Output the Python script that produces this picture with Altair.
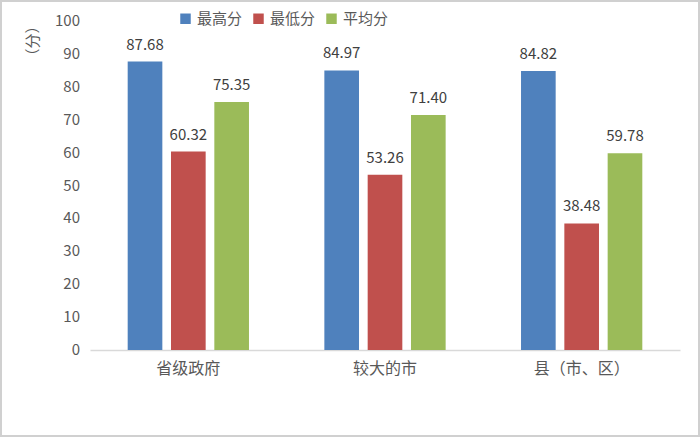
import altair as alt
import pandas as pd

categories = ["省级政府", "较大的市", "县（市、区）"]
series = ["最高分", "最低分", "平均分"]
highest = [87.68, 84.97, 84.82]
lowest = [60.32, 53.26, 38.48]
average = [75.35, 71.40, 59.78]
y_ticks = [0, 10, 20, 30, 40, 50, 60, 70, 80, 90, 100]
y_title = ["（分）"]
colors = ["#4F81BD", "#C0504D", "#9BBB59"]

rows = []
for i, c in enumerate(categories):
    for s, vals in zip(series, [highest, lowest, average]):
        rows.append({"cat": c, "series": s, "value": vals[i], "label": f"{vals[i]:.2f}"})
df = pd.DataFrame(rows)

FONT = "Noto Sans CJK SC"
GRAY = "#595959"

W, H = 590, 329

base = alt.Chart(df).encode(
    x=alt.X("cat:N", sort=categories,
            scale=alt.Scale(paddingInner=0, paddingOuter=0),
            axis=alt.Axis(title=None, labelAngle=0, ticks=False, domainColor="#d9d9d9",
                          domainWidth=1.5, labelFontSize=16, labelColor=GRAY, labelFont=FONT,
                          labelPadding=10)),
    xOffset=alt.XOffset("series:N", sort=series,
                        scale=alt.Scale(paddingInner=0.2, paddingOuter=0.87)),
    y=alt.Y("value:Q", scale=alt.Scale(domain=[0, 100], nice=False), axis=None),
)

bars = base.mark_bar().encode(
    color=alt.Color("series:N", sort=series,
                    scale=alt.Scale(domain=series, range=colors),
                    legend=alt.Legend(title=None, orient="none", direction="horizontal",
                                      legendX=88, legendY=-10, symbolType="square",
                                      symbolSize=110, symbolStrokeWidth=0, labelFontSize=15,
                                      labelColor=GRAY, labelFont=FONT, columnPadding=8,
                                      labelOffset=4)),
)

texts = base.mark_text(dy=-17, fontSize=15, color="#404040", font=FONT).encode(
    text="label:N",
)

# y tick labels drawn as text through the shared y scale
ticks_df = pd.DataFrame({"t": y_ticks})
ylabels = alt.Chart(ticks_df).mark_text(align="right", baseline="middle", fontSize=15,
                                        color=GRAY, font=FONT).encode(
    y=alt.Y("t:Q"),
    x=alt.value(-10),
    text=alt.Text("t:Q"),
)

title_df = pd.DataFrame({"title": y_title})
ytitle = alt.Chart(title_df).mark_text(angle=270, fontSize=15, color=GRAY, font=FONT,
                                       align="center", baseline="middle").encode(
    x=alt.value(-57), y=alt.value(20), text="title:N"
)

frame = alt.Chart(title_df).mark_rect(fill=None, stroke="#d0d0d0", strokeWidth=2).encode(
    x=alt.value(-89), x2=alt.value(609), y=alt.value(-20), y2=alt.value(415)
)

chart = alt.layer(bars, texts, ylabels, ytitle, frame).properties(
    width=W, height=H,
    autosize=alt.AutoSizeParams(type="none"),
    padding={"left": 90, "top": 21, "right": 20, "bottom": 87},
    background="white",
).configure_view(stroke=None)

chart.save("out.html", embed_options={"renderer": "svg", "actions": False})
